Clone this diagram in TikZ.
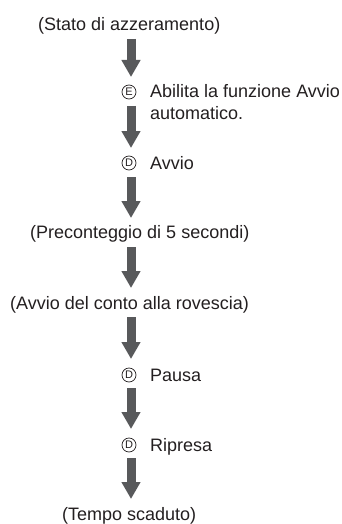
\documentclass[tikz,border=0pt]{standalone}
\usepackage{fontspec}
\setmainfont{Liberation Sans}
\usetikzlibrary{arrows.meta}
\definecolor{txtblack}{RGB}{35,31,32}
\definecolor{arrgray}{RGB}{88,89,91}

\begin{document}
\begin{tikzpicture}[
  x=1pt, y=-1pt,
  every node/.style={font=\fontsize{18}{22}\selectfont, text=txtblack, inner sep=0pt},
  state/.style={anchor=base west},
  btn/.style={draw=txtblack, circle, line width=0.7pt, minimum size=14pt, font=\fontsize{11}{11}\selectfont},
  downarr/.style={line width=9pt, draw=arrgray, -{Triangle[width=18pt,length=17pt]}, shorten <=14pt, shorten >=15pt}
]
  \useasboundingbox (0,0) rectangle (342,524);

  % points on the arrow axis
  \coordinate (p0) at (131,25);
  \coordinate (p1) at (131,92);
  \coordinate (p2) at (131,163);
  \coordinate (p3) at (131,233);
  \coordinate (p4) at (131,303);
  \coordinate (p5) at (131,374);
  \coordinate (p6) at (131,444);
  \coordinate (p7) at (131,514);

  \node[state] (reset) at (38,31) {(Stato di azzeramento)};
  \node[btn] (keyE) at (129,92) {E};
  \node[state] (autoon) at (150,98) {Abilita la funzione Avvio};
  \node[state] (autoon2) at (150,120) {automatico.};
  \node[btn] (keyD1) at (129,163) {D};
  \node[state] (start) at (150,169) {Avvio};
  \node[state] (precount) at (30,238) {(Preconteggio di 5 secondi)};
  \node[state] (countdown) at (10,309) {(Avvio del conto alla rovescia)};
  \node[btn] (keyD2) at (129,375) {D};
  \node[state] (pause) at (150,381) {Pausa};
  \node[btn] (keyD3) at (129,445) {D};
  \node[state] (resume) at (150,451) {Ripresa};
  \node[state] (timeup) at (62,520) {(Tempo scaduto)};

  \draw[downarr] (p0) -- (p1);
  \draw[downarr] (p1) -- (p2);
  \draw[downarr] (p2) -- (p3);
  \draw[downarr] (p3) -- (p4);
  \draw[downarr] (p4) -- (p5);
  \draw[downarr] (p5) -- (p6);
  \draw[downarr] (p6) -- (p7);
\end{tikzpicture}
\end{document}
